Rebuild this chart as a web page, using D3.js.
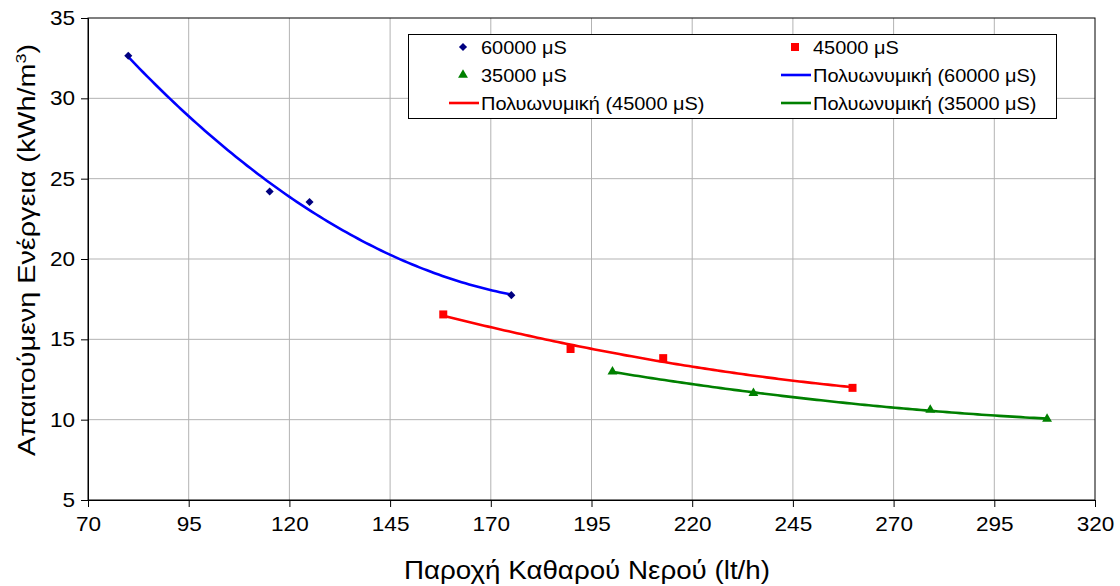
<!DOCTYPE html>
<html><head><meta charset="utf-8">
<script src="https://cdn.jsdelivr.net/npm/d3@7"></script>
<style>body{margin:0;background:#fff}svg{font-family:"Liberation Sans",Arial,sans-serif}</style>
</head><body><svg id="c" width="1120" height="586"></svg>
<script>
const xTicks = [70,95,120,145,170,195,220,245,270,295,320];
const yTicks = [5,10,15,20,25,30,35];
const x60 = [80, 115.1, 125, 175.1];
const y60 = [32.65, 24.2, 23.55, 17.75];
const x45 = [158.2, 189.8, 212.8, 259.8];
const y45 = [16.55, 14.4, 13.83, 11.98];
const x35 = [200.2, 235.2, 279.1, 308.1];
const y35 = [12.99, 11.65, 10.61, 10.04];
const seriesNames = ["60000 μS","45000 μS","35000 μS"];
const trendNames = ["Πολυωνυμική (60000 μS)","Πολυωνυμική (45000 μS)","Πολυωνυμική (35000 μS)"];

const svg = d3.select("#c");
const L=88,R=1095,T=18,B=500;
const x = d3.scaleLinear().domain([70,320]).range([L,R]);
const y = d3.scaleLinear().domain([5,35]).range([B,T]);

function stretch(sel, sx){
  sel.each(function(){
    const t=d3.select(this);
    const ax=+(t.attr("x")||0), ay=+(t.attr("y")||0);
    const prev=t.attr("transform")||"";
    t.attr("transform",`${prev} translate(${ax},${ay}) scale(${sx},1) translate(${-ax},${-ay})`);
  });
}

// grid
svg.append("g").selectAll("line").data(xTicks.slice(1,-1)).join("line")
 .attr("x1",d=>x(d)).attr("x2",d=>x(d)).attr("y1",T).attr("y2",B).attr("stroke","#b3b3b3").attr("stroke-width",1);
svg.append("g").selectAll("line").data(yTicks.slice(1,-1)).join("line")
 .attr("y1",d=>y(d)).attr("y2",d=>y(d)).attr("x1",L).attr("x2",R).attr("stroke","#b3b3b3").attr("stroke-width",1);
svg.append("rect").attr("x",L).attr("y",T).attr("width",R-L).attr("height",B-T).attr("fill","none").attr("stroke","#000").attr("stroke-width",1);

const xa = svg.append("g").attr("transform",`translate(0,${B})`).call(d3.axisBottom(x).tickValues(xTicks).tickSize(7).tickPadding(10).tickFormat(d3.format("d")));
const ya = svg.append("g").attr("transform",`translate(${L},0)`).call(d3.axisLeft(y).tickValues(yTicks).tickSize(7).tickPadding(6).tickFormat(d3.format("d")));
[xa,ya].forEach(a=>{a.select(".domain").attr("stroke","#000");a.selectAll(".tick line").attr("stroke","#000");
 a.selectAll("text").attr("font-size",20).attr("fill","#000").attr("font-family","Liberation Sans, Arial, sans-serif");
 stretch(a.selectAll("text"),1.13);});

const xt = svg.append("text").attr("x",587).attr("y",579).attr("text-anchor","middle").attr("font-size",25).text("Παροχή Καθαρού Νερού (lt/h)");
stretch(xt,1.11);
const yt = svg.append("text").attr("transform",`translate(35,250) rotate(-90)`).attr("text-anchor","middle").attr("font-size",24);
yt.append("tspan").text("Απαιτούμενη Ενέργεια (kWh/m");
yt.append("tspan").attr("font-size",15).attr("dy",-9).text("3");
yt.append("tspan").attr("dy",9).text(")");
stretch(yt,1.2);

function polyfit(xs,ys){
  const S=k=>d3.sum(xs,v=>Math.pow(v,k));
  const Sy=k=>d3.sum(xs,(v,i)=>Math.pow(v,k)*ys[i]);
  const A=[[S(0),S(1),S(2),Sy(0)],[S(1),S(2),S(3),Sy(1)],[S(2),S(3),S(4),Sy(2)]];
  for(let i=0;i<3;i++){for(let j=i+1;j<3;j++){const f=A[j][i]/A[i][i];for(let k=i;k<4;k++)A[j][k]-=f*A[i][k];}}
  const c=[0,0,0];for(let i=2;i>=0;i--){let s=A[i][3];for(let k=i+1;k<3;k++)s-=A[i][k]*c[k];c[i]=s/A[i][i];}
  return v=>c[0]+c[1]*v+c[2]*v*v;
}
const diamond={draw(ctx,size){const r=Math.sqrt(size)/1.6;ctx.moveTo(0,-r);ctx.lineTo(r,0);ctx.lineTo(0,r);ctx.lineTo(-r,0);ctx.closePath();}};
const series=[{xs:x60,ys:y60,mc:"#000080",lc:"#0000ff",sym:diamond,sz:42},
 {xs:x45,ys:y45,mc:"#ff0000",lc:"#ff0000",sym:d3.symbolSquare,sz:64},
 {xs:x35,ys:y35,mc:"#008000",lc:"#008000",sym:d3.symbolTriangle,sz:42}];
const line=d3.line().x(d=>x(d[0])).y(d=>y(d[1]));
series.forEach(s=>{
  const f=polyfit(s.xs,s.ys);const lo=d3.min(s.xs),hi=d3.max(s.xs);
  const pts=d3.range(0,101).map(i=>{const v=lo+(hi-lo)*i/100;return [v,f(v)];});
  svg.append("path").attr("d",line(pts)).attr("fill","none").attr("stroke",s.lc).attr("stroke-width",2.6);
});
series.forEach(s=>{
  svg.append("g").selectAll("path").data(s.xs.map((v,i)=>[v,s.ys[i]])).join("path")
   .attr("transform",d=>`translate(${x(d[0])},${y(d[1])})`).attr("d",d3.symbol().type(s.sym).size(s.sz)).attr("fill",s.mc);
});

// legend
const lg=svg.append("g");
lg.append("rect").attr("x",408.5).attr("y",34.5).attr("width",648).attr("height",84).attr("fill","#fff").attr("stroke","#000").attr("stroke-width",1);
const items=[
 {t:seriesNames[0],type:"m",s:series[0],cx:463,ty:47,tx:481},
 {t:seriesNames[1],type:"m",s:series[1],cx:795,ty:47,tx:813},
 {t:seriesNames[2],type:"m",s:series[2],cx:463,ty:75,tx:481},
 {t:trendNames[0],type:"l",s:series[0],x1:781,x2:811,ty:75,tx:813},
 {t:trendNames[1],type:"l",s:series[1],x1:449,x2:479,ty:103,tx:481},
 {t:trendNames[2],type:"l",s:series[2],x1:781,x2:811,ty:103,tx:813}];
items.forEach(it=>{
  if(it.type==="m") lg.append("path").attr("transform",`translate(${it.cx},${it.ty})`).attr("d",d3.symbol().type(it.s.sym).size(it.s.sz)).attr("fill",it.s.mc);
  else lg.append("line").attr("x1",it.x1).attr("x2",it.x2).attr("y1",it.ty).attr("y2",it.ty).attr("stroke",it.s.lc).attr("stroke-width",2.6);
  const tx=lg.append("text").attr("x",it.tx).attr("y",it.ty+7).attr("font-size",19).text(it.t);
  stretch(tx,1.05);
});
</script></body></html>
